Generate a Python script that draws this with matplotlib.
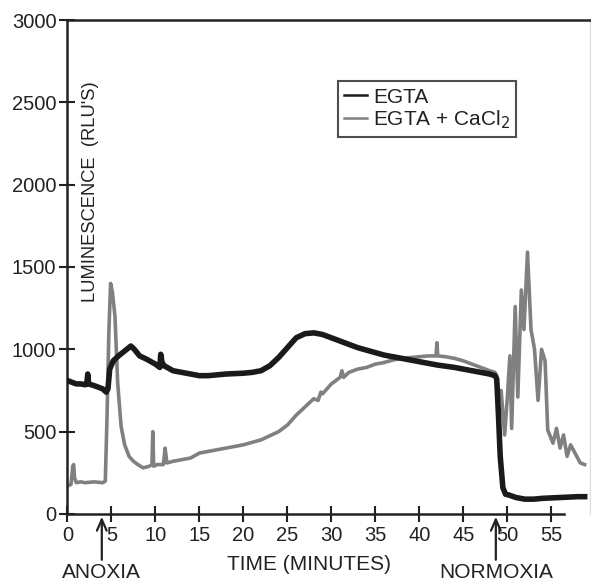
import matplotlib
matplotlib.use("Agg")
import matplotlib.pyplot as plt

plt.rcParams['font.family'] = ['Liberation Sans', 'DejaVu Sans']

# EGTA (black)
t_egta = [0, 0.5, 1, 1.5, 2, 2.2, 2.3, 2.4, 3, 3.5, 4, 4.4, 4.6, 4.8, 5.2, 5.8, 6.5, 7.2, 7.6, 8.2,
          9, 10, 10.5, 10.6, 10.75, 11, 12, 13, 14, 15, 16, 18, 20, 21, 22, 23, 24, 25, 26, 27,
          28, 29, 30, 31, 32, 33, 34, 35, 36, 38, 40, 42, 44, 46, 47, 48, 48.6, 48.8, 49.0, 49.2,
          49.5, 49.8, 50.2, 51, 52, 53, 54, 56, 58, 58.8]
v_egta = [810, 800, 790, 790, 785, 790, 850, 790, 780, 770, 760, 740, 760, 880, 930, 960, 990, 1020, 1000, 960,
          940, 910, 890, 970, 920, 900, 870, 860, 850, 840, 840, 850, 855, 860, 870, 900, 950, 1010, 1070, 1095,
          1100, 1090, 1070, 1050, 1030, 1010, 995, 980, 965, 945, 925, 905, 890, 870, 860, 850, 840, 820, 600, 350,
          160, 120, 115, 100, 90, 90, 95, 100, 105, 105]

# EGTA + CaCl2 (gray)
t_ca = [0, 0.4, 0.6, 0.7, 0.8, 1.0, 1.5, 2, 3, 4, 4.3, 4.5, 4.7, 4.9, 5.1, 5.4, 5.7, 6.1, 6.5, 7,
        7.5, 8, 8.6, 9.3, 9.6, 9.7, 9.8, 10.2, 10.9, 11.1, 11.3, 12, 13, 14, 15, 16, 18, 20, 22, 24,
        25, 26, 27, 28, 28.5, 28.8, 29, 29.5, 30, 31, 31.2, 31.4, 32, 33, 34, 35, 36, 37, 38, 40,
        41, 41.9, 42, 42.1, 43, 44, 45, 46, 47, 48, 48.6, 48.8, 49.0, 49.3, 49.7, 50.0, 50.3, 50.5, 50.9, 51.2,
        51.6, 51.9, 52.3, 52.7, 53.1, 53.5, 53.9, 54.3, 54.6, 55.2, 55.6, 56, 56.4, 56.8, 57.2, 57.5, 58, 58.3, 58.8]
v_ca = [170, 180, 290, 300, 220, 190, 195, 190, 195, 190, 200, 600, 1100, 1400, 1350, 1200, 800, 530, 420, 350,
        320, 300, 280, 290, 300, 500, 290, 300, 300, 400, 310, 320, 330, 340, 370, 380, 400, 420, 450, 500,
        540, 600, 650, 700, 690, 740, 730, 760, 790, 830, 870, 830, 860, 880, 890, 910, 920, 935, 945, 955,
        960, 960, 1040, 960, 955, 945, 930, 910, 890, 870, 860, 840, 700, 750, 480, 700, 960, 520, 1260, 710,
        1360, 1120, 1590, 1120, 1000, 690, 1000, 930, 510, 430, 520, 400, 480, 350, 420, 390, 340, 310, 300]

x_ticks = [0, 5, 10, 15, 20, 25, 30, 35, 40, 45, 50, 55]
y_ticks = [0, 500, 1000, 1500, 2000, 2500, 3000]
anoxia_t = 3.9
normoxia_t = 48.7

txt = '#222222'
fig = plt.figure(figsize=(5.91, 5.85), dpi=100)
ax = fig.add_axes([0.1142, 0.1214, 0.884, 0.8444])

ax.plot(t_ca, v_ca, color='#808080', lw=2.6, label='EGTA + CaCl$_2$', zorder=2)
ax.plot(t_egta, v_egta, color='#1a1a1a', lw=4.0, label='EGTA', zorder=3)

ax.set_xlim(0, 59.4)
ax.set_ylim(0, 3000)
ax.set_xticks(x_ticks)
ax.set_yticks(y_ticks)
ax.tick_params(direction='inout', length=12, width=1.5, colors=txt, labelsize=14.5, pad=2)
ax.tick_params(axis='x', pad=3)
for s in ['left', 'bottom', 'top']:
    ax.spines[s].set_linewidth(1.8)
    ax.spines[s].set_color('#222222')
ax.spines['right'].set_color('#dddddd')
ax.spines['right'].set_linewidth(1.0)
ax.spines['bottom'].set_bounds(0, 56.5)

ax.text(2.6, 1955, "LUMINESCENCE  (RLU'S)", rotation=90, ha='center', va='center',
        fontsize=13.2, color=txt)
ax.text(27.5, -250, 'TIME (MINUTES)', ha='center', va='top', fontsize=15, color=txt, clip_on=False)

for tt, lab in [(anoxia_t, 'ANOXIA'), (normoxia_t, 'NORMOXIA')]:
    ax.annotate('', xy=(tt, 0), xytext=(tt, -295),
                arrowprops=dict(arrowstyle='->,head_length=0.8,head_width=0.35', lw=1.6, color=txt),
                annotation_clip=False)
    ax.text(tt, -300, lab, ha='center', va='top', fontsize=15, color=txt, clip_on=False)

handles, labels = ax.get_legend_handles_labels()
leg = ax.legend(handles[::-1], labels[::-1], loc='upper left', bbox_to_anchor=(0.517, 0.876),
                fontsize=15, frameon=True, fancybox=False, edgecolor='#222222',
                handlelength=1.1, handletextpad=0.3, borderpad=0.3, labelspacing=0.1,
                borderaxespad=0)
leg.get_frame().set_linewidth(1.5)
for t in leg.get_texts():
    t.set_color(txt)
for l in leg.get_lines():
    l.set_linewidth(1.8)

fig.savefig('out.png', dpi=100)
